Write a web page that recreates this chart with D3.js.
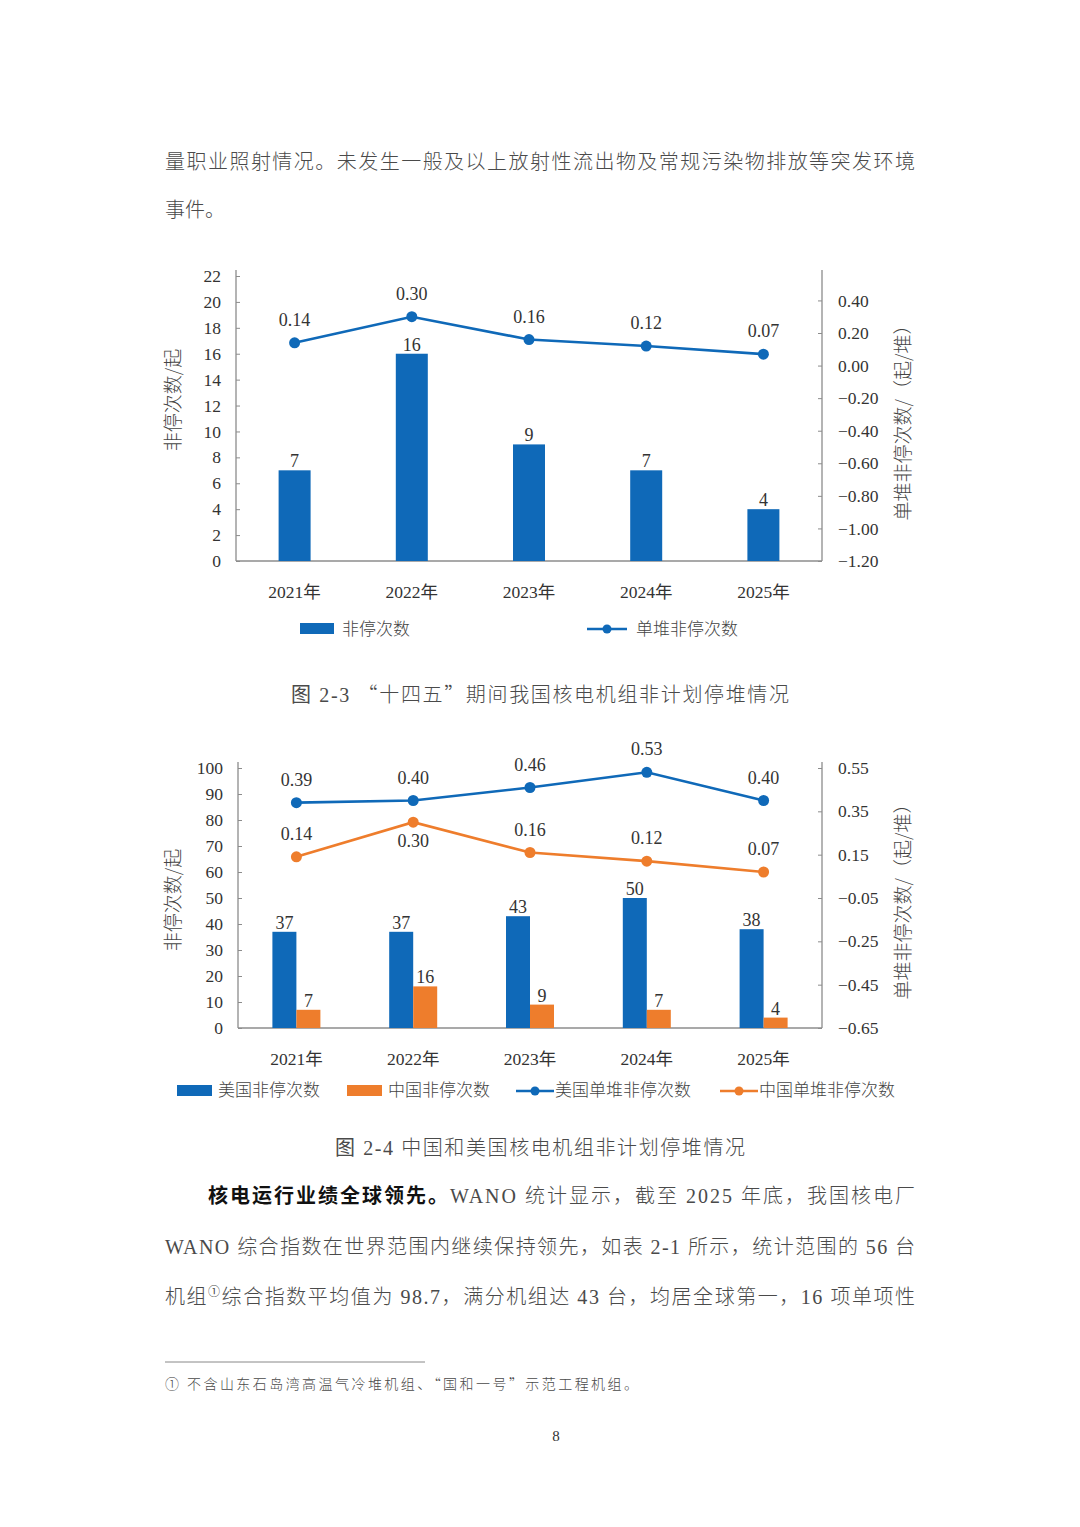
<!DOCTYPE html>
<html>
<head>
<meta charset="utf-8">
<script src="https://cdn.jsdelivr.net/npm/d3@7"></script>
<style>
  html, body { margin: 0; padding: 0; background: #fff; }
  svg text { font-family: "Liberation Serif", "Noto Sans CJK SC", serif; }
  .cjk { font-family: "Noto Sans CJK SC", sans-serif !important; font-weight: 300; }
</style>
</head>
<body>
<svg id="page"></svg>
<script>
// data
const years = ["2021年", "2022年", "2023年", "2024年", "2025年"];
const cnScrams = [7, 16, 9, 7, 4];
const cnPerUnit = [0.14, 0.30, 0.16, 0.12, 0.07];
const usScrams = [37, 37, 43, 50, 38];
const usPerUnit = [0.39, 0.40, 0.46, 0.53, 0.40];

const leftTicks1 = [0, 2, 4, 6, 8, 10, 12, 14, 16, 18, 20, 22];
const rightTicks1 = [-1.2, -1.0, -0.8, -0.6, -0.4, -0.2, 0, 0.2, 0.4];
const leftTicks2 = [0, 10, 20, 30, 40, 50, 60, 70, 80, 90, 100];
const rightTicks2 = [-0.65, -0.45, -0.25, -0.05, 0.15, 0.35, 0.55];

const BLUE = "#0f69b8";
const ORANGE = "#ee7d2c";
const AXIS = "#8c8c8c";
const TXT = "#333";
const BODY = "#4a4a4a";

const W = 1080, H = 1527;
const svg = d3.select("#page").attr("width", W).attr("height", H);

// justified body text line
function bodyLine(y, parts, x0, x1, size) {
  const t = svg.append("text")
    .attr("x", x0).attr("y", y)
    .attr("font-size", size || 20)
    .attr("fill", BODY);
  if (x1) t.attr("textLength", x1 - x0).attr("lengthAdjust", "spacing");
  parts.forEach(p => {
    const s = t.append("tspan").text(p.t);
    if (p.cjk) s.attr("class", "cjk");
    if (p.bold) s.style("font-weight", "bold").attr("fill", "#111");
    if (p.sup) s.attr("font-size", 12).attr("dy", -8);
    if (p.down) s.attr("dy", 8);
  });
  return t;
}

bodyLine(169, [{t: "量职业照射情况。未发生一般及以上放射性流出物及常规污染物排放等突发环境", cjk: true}], 165, 915);
bodyLine(217, [{t: "事件。", cjk: true}], 165, null);

// one combo chart: bars on left axis, lines on right axis
function comboChart(o) {
  const g = svg.append("g");
  const x = d3.scaleBand().domain(years).range([o.x0, o.x1]);
  const yL = d3.scaleLinear().domain(o.leftDomain).range([o.y0, o.y1]);
  const yR = d3.scaleLinear().domain(o.rightDomain).range([o.y0, o.y1]);

  // left axis
  const la = g.append("g").attr("transform", `translate(${o.x0},0)`)
    .call(d3.axisLeft(yL).tickValues(o.leftTicks).tickSize(-4).tickSizeOuter(0).tickPadding(15).tickFormat(d3.format("d")));
  la.select(".domain").remove();
  la.selectAll("line").attr("stroke", AXIS);
  la.selectAll("text").attr("font-size", 17.5).attr("fill", TXT);

  // right axis
  const ra = g.append("g").attr("transform", `translate(${o.x1},0)`)
    .call(d3.axisRight(yR).tickValues(o.rightTicks).tickSize(-4).tickSizeOuter(0).tickPadding(16).tickFormat(d3.format(".2f")));
  ra.select(".domain").remove();
  ra.selectAll("line").attr("stroke", AXIS);
  ra.selectAll("text").attr("font-size", 17.5).attr("fill", TXT);

  // axis lines
  [o.x0, o.x1].forEach(xx => g.append("line")
    .attr("x1", xx).attr("x2", xx).attr("y1", o.y1 - 6).attr("y2", o.y0)
    .attr("stroke", AXIS).attr("stroke-width", 1.3));
  g.append("line").attr("x1", o.x0).attr("x2", o.x1).attr("y1", o.y0).attr("y2", o.y0)
    .attr("stroke", AXIS).attr("stroke-width", 1.3);

  // x labels
  g.selectAll(".xl").data(years).enter().append("text")
    .attr("x", d => x(d) + x.bandwidth() / 2).attr("y", o.y0 + 37)
    .attr("text-anchor", "middle").attr("font-size", 17.5).attr("fill", TXT)
    .text(d => d);

  // axis titles
  g.append("text").attr("class", "cjk")
    .attr("transform", `translate(${o.titleLx},${o.titleLy}) rotate(-90)`)
    .attr("text-anchor", "middle").attr("dy", "0.35em")
    .attr("font-size", 19).attr("fill", "#444").text("非停次数/起");
  g.append("text").attr("class", "cjk")
    .attr("transform", `translate(${o.titleRx},${o.titleRy}) rotate(-90)`)
    .attr("text-anchor", "middle").attr("dy", "0.35em")
    .attr("font-size", 19).attr("fill", "#444").text("单堆非停次数/（起/堆）");

  // bars
  o.bars.forEach(b => {
    g.selectAll(null).data(b.values).enter().append("rect")
      .attr("x", (d, i) => x(years[i]) + x.bandwidth() / 2 + b.offset)
      .attr("width", b.width)
      .attr("y", d => yL(d))
      .attr("height", d => o.y0 - yL(d))
      .attr("fill", b.color);
    g.selectAll(null).data(b.values).enter().append("text")
      .attr("x", (d, i) => x(years[i]) + x.bandwidth() / 2 + b.offset + b.width / 2)
      .attr("y", d => yL(d) - 3)
      .attr("text-anchor", "middle").attr("font-size", 18).attr("fill", TXT)
      .text(d => d);
  });

  // lines
  o.lines.forEach(l => {
    const cx = (d, i) => x(years[i]) + x.bandwidth() / 2;
    g.append("path").datum(l.values)
      .attr("fill", "none").attr("stroke", l.color).attr("stroke-width", 2.6)
      .attr("d", d3.line().x(cx).y(d => yR(d)));
    g.selectAll(null).data(l.values).enter().append("circle")
      .attr("cx", cx).attr("cy", d => yR(d)).attr("r", 5.5).attr("fill", l.color);
    g.selectAll(null).data(l.values).enter().append("text")
      .attr("x", cx)
      .attr("y", (d, i) => (l.below && l.below[i]) ? yR(d) + 25 : yR(d) - 17)
      .attr("text-anchor", "middle").attr("font-size", 18).attr("fill", TXT)
      .text(d => d3.format(".2f")(d));
  });
  return g;
}

// chart 2-3
comboChart({
  x0: 236, x1: 822, y0: 561, y1: 276,
  leftDomain: [0, 22], rightDomain: [-1.2, 0.55],
  leftTicks: leftTicks1, rightTicks: rightTicks1,
  titleLx: 173, titleLy: 400, titleRx: 903, titleRy: 418,
  bars: [{values: cnScrams, color: BLUE, width: 32, offset: -16}],
  lines: [{values: cnPerUnit, color: BLUE}]
});

// legend 2-3
svg.append("rect").attr("x", 300).attr("y", 623).attr("width", 34).attr("height", 11).attr("fill", BLUE);
svg.append("text").attr("class", "cjk").attr("x", 342).attr("y", 635).attr("font-size", 17).attr("fill", "#444").text("非停次数");
svg.append("line").attr("x1", 587).attr("x2", 627).attr("y1", 629).attr("y2", 629).attr("stroke", BLUE).attr("stroke-width", 2.6);
svg.append("circle").attr("cx", 607).attr("cy", 629).attr("r", 4.5).attr("fill", BLUE);
svg.append("text").attr("class", "cjk").attr("x", 636).attr("y", 635).attr("font-size", 17).attr("fill", "#444").text("单堆非停次数");

bodyLine(702, [{t: "图 2-3  ", cjk: false}, {t: "“十四五”期间我国核电机组非计划停堆情况", cjk: true}], 291, 789, 20);

// chart 2-4
comboChart({
  x0: 238, x1: 822, y0: 1028, y1: 768,
  leftDomain: [0, 100], rightDomain: [-0.65, 0.55],
  leftTicks: leftTicks2, rightTicks: rightTicks2,
  titleLx: 173, titleLy: 900, titleRx: 903, titleRy: 897,
  bars: [
    {values: usScrams, color: BLUE, width: 24, offset: -24},
    {values: cnScrams, color: ORANGE, width: 24, offset: 0}
  ],
  lines: [
    {values: usPerUnit, color: BLUE},
    {values: cnPerUnit, color: ORANGE, below: [false, true, false, false, false]}
  ]
});

// legend 2-4
const leg2 = [
  {type: "rect", x: 177, color: BLUE, label: "美国非停次数"},
  {type: "rect", x: 347, color: ORANGE, label: "中国非停次数"},
  {type: "line", x: 516, color: BLUE, label: "美国单堆非停次数"},
  {type: "line", x: 720, color: ORANGE, label: "中国单堆非停次数"}
];
leg2.forEach(d => {
  if (d.type === "rect") {
    svg.append("rect").attr("x", d.x).attr("y", 1085).attr("width", 35).attr("height", 11).attr("fill", d.color);
    svg.append("text").attr("class", "cjk").attr("x", d.x + 41).attr("y", 1096).attr("font-size", 17).attr("fill", "#444").text(d.label);
  } else {
    svg.append("line").attr("x1", d.x).attr("x2", d.x + 38).attr("y1", 1091).attr("y2", 1091).attr("stroke", d.color).attr("stroke-width", 2.6);
    svg.append("circle").attr("cx", d.x + 19).attr("cy", 1091).attr("r", 4.5).attr("fill", d.color);
    svg.append("text").attr("class", "cjk").attr("x", d.x + 39).attr("y", 1096).attr("font-size", 17).attr("fill", "#444").text(d.label);
  }
});

bodyLine(1155, [{t: "图 2-4 ", cjk: false}, {t: "中国和美国核电机组非计划停堆情况", cjk: true}], 335, 745, 20);

// paragraph
bodyLine(1203, [
  {t: "核电运行业绩全球领先。", cjk: true, bold: true},
  {t: "WANO "}, {t: "统计显示，截至", cjk: true}, {t: " 2025 "}, {t: "年底，我国核电厂", cjk: true}
], 208, 915);
bodyLine(1254, [
  {t: "WANO "}, {t: "综合指数在世界范围内继续保持领先，如表", cjk: true}, {t: " 2-1 "},
  {t: "所示，统计范围的", cjk: true}, {t: " 56 "}, {t: "台", cjk: true}
], 165, 915);
bodyLine(1304, [
  {t: "机组", cjk: true}, {t: "①", sup: true}, {t: "综合指数平均值为", cjk: true, down: true}, {t: " 98.7"},
  {t: "，满分机组达", cjk: true}, {t: " 43 "}, {t: "台，均居全球第一，", cjk: true}, {t: "16 "}, {t: "项单项性", cjk: true}
], 165, 915);

// footnote
svg.append("line").attr("x1", 165).attr("x2", 425).attr("y1", 1362).attr("y2", 1362).attr("stroke", "#888").attr("stroke-width", 1);
bodyLine(1389, [{t: "① 不含山东石岛湾高温气冷堆机组、“国和一号”示范工程机组。", cjk: true}], 165, 638, 14);

svg.append("text").attr("x", 556).attr("y", 1441).attr("text-anchor", "middle")
  .attr("font-size", 15).attr("fill", TXT).text("8");
</script>
</body>
</html>
